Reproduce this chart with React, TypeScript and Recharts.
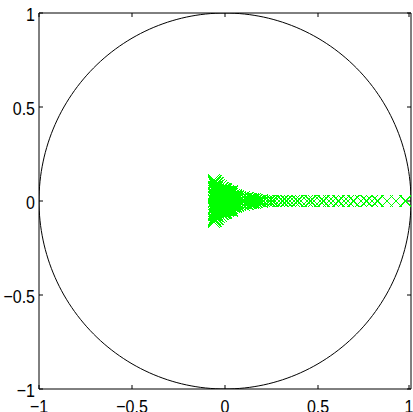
import { ScatterChart, Scatter, XAxis, YAxis } from "recharts";

const axisTicks = [-1, -0.5, 0, 0.5, 1];

// dense group of complex eigenvalues around the origin
const clusterRe = [
  -0.06, -0.06, -0.06, -0.06, -0.06, -0.06, -0.06,
  -0.055, -0.055, -0.055, -0.055, -0.055, -0.055,
  -0.05, -0.05, -0.05, -0.05,
  -0.045, -0.045, -0.045, -0.045,
  -0.04, -0.04, -0.04, -0.04,
  -0.035, -0.035, -0.035, -0.035,
  -0.03, -0.03,
  -0.025, -0.025, -0.025, -0.025,
  -0.02, -0.02, -0.015, -0.015, -0.01, -0.01, -0.005, -0.005,
  0, 0, 0.005, 0.005, 0.01, 0.01, 0.015, 0.015, 0.02, 0.02,
  0.025, 0.025, 0.03, 0.03, 0.035, 0.035, 0.04, 0.04, 0.045, 0.045,
  0.05, 0.05, 0.055, 0.055, 0.06, 0.06, 0.065, 0.065, 0.07, 0.07,
];
const clusterIm = [
  0.11, -0.11, 0.075, -0.075, 0.04, -0.04, 0,
  0.095, -0.095, 0.055, -0.055, 0.02, -0.02,
  0.085, -0.085, 0.03, -0.03,
  0.07, -0.07, 0.045, -0.045,
  0.08, -0.08, 0.01, -0.01,
  0.06, -0.06, 0.025, -0.025,
  0.07, -0.07,
  0.05, -0.05, 0.015, -0.015,
  0.065, -0.065, 0.035, -0.035, 0.055, -0.055, 0.02, -0.02,
  0.045, -0.045, 0.06, -0.06, 0.03, -0.03, 0.05, -0.05, 0.015, -0.015,
  0.04, -0.04, 0.05, -0.05, 0.025, -0.025, 0.04, -0.04, 0.01, -0.01,
  0.035, -0.035, 0.02, -0.02, 0.03, -0.03, 0.01, -0.01, 0.025, -0.025,
];

// more eigenvalues filling the core of the cluster
const innerRe = [
  -0.058, -0.058, -0.058, -0.058, -0.058, -0.058,
  -0.052, -0.052, -0.052, -0.052, -0.052, -0.052, -0.052, -0.052,
  -0.048, -0.048, -0.048, -0.048,
  -0.042, -0.042, -0.042, -0.042,
  -0.038, -0.038, -0.038, -0.038,
  -0.032, -0.032, -0.032, -0.032, -0.032, -0.032,
  -0.028, -0.028, -0.028, -0.028,
  -0.022, -0.022, -0.022, -0.022,
  -0.018, -0.018, -0.018, -0.018,
  -0.012, -0.012, -0.012, -0.012,
  -0.008, -0.008, -0.002, -0.002, -0.002, -0.002,
  0.002, 0.002, 0.008, 0.008, 0.008, 0.008, 0.012, 0.012,
  0.018, 0.018, 0.018, 0.018, 0.022, 0.022, 0.028, 0.028,
  0.032, 0.032, 0.038, 0.038, 0.042, 0.042, 0.048, 0.048,
];
const innerIm = [
  0.1, -0.1, 0.065, -0.065, 0.03, -0.03,
  0.105, -0.105, 0.075, -0.075, 0.045, -0.045, 0.01, -0.01,
  0.06, -0.06, 0.02, -0.02,
  0.095, -0.095, 0.035, -0.035,
  0.065, -0.065, 0.045, -0.045,
  0.085, -0.085, 0.05, -0.05, 0.015, -0.015,
  0.04, -0.04, 0.025, -0.025,
  0.08, -0.08, 0.03, -0.03,
  0.045, -0.045, 0.01, -0.01,
  0.07, -0.07, 0.025, -0.025,
  0.04, -0.04, 0.065, -0.065, 0.01, -0.01,
  0.035, -0.035, 0.05, -0.05, 0.015, -0.015, 0.04, -0.04,
  0.055, -0.055, 0.03, -0.03, 0.045, -0.045, 0.02, -0.02,
  0.035, -0.035, 0.05, -0.05, 0.02, -0.02, 0.03, -0.03,
];

// tail of eigenvalues along the positive real axis
const tailRe = [
  0.08, 0.08, 0.09, 0.09, 0.1, 0.1, 0.11, 0.11, 0.12, 0.12, 0.13, 0.13,
  0.14, 0.14, 0.15, 0.15, 0.16, 0.16, 0.17, 0.17, 0.18, 0.19, 0.2, 0.2,
  0.21, 0.225, 0.24, 0.255, 0.27, 0.29, 0.31, 0.33, 0.35, 0.37, 0.39,
  0.41, 0.44, 0.46, 0.48, 0.51, 0.53, 0.56, 0.58, 0.61, 0.64, 0.66,
  0.69, 0.73, 0.76, 0.79, 0.82, 0.87, 0.92, 0.97,
];
const tailIm = [
  0.02, -0.02, 0.015, -0.015, 0.02, -0.02, 0.01, -0.01, 0.015, -0.015, 0.01, -0.01,
  0.012, -0.012, 0.008, -0.008, 0.01, -0.01, 0.006, -0.006, 0, 0, 0.005, -0.005,
  0, 0, 0, 0, 0, 0, 0, 0, 0, 0, 0,
  0, 0, 0, 0, 0, 0, 0, 0, 0, 0, 0,
  0, 0, 0, 0, 0, 0, 0, 0,
];

const eigData = [
  ...clusterRe.map((re, i) => ({ x: re, y: clusterIm[i] })),
  ...innerRe.map((re, i) => ({ x: re, y: innerIm[i] })),
  ...tailRe.map((re, i) => ({ x: re, y: tailIm[i] })),
];

// unit circle outline
const circleData = Array.from({ length: 241 }, (_, i) => {
  const t = (i / 240) * 2 * Math.PI;
  return { x: Math.cos(t), y: Math.sin(t) };
});

const FONT = "Arial, 'Liberation Sans', Helvetica, sans-serif";
const TL = 4; // inward tick length
const fmt = (v: number) => String(v).replace("-", "\u2212");

// MATLAB-ish ticks: inward tick line + slightly tall label
function BottomTick({ x, y, payload }: any) {
  return (
    <g>
      <line x1={x} y1={y} x2={x} y2={y - TL} stroke="#000" />
      <text
        transform={`translate(${x},${y + 24}) scale(1,1.2)`}
        textAnchor="middle"
        fontSize={16}
        fontFamily={FONT}
        fill="#000"
      >
        {fmt(payload.value)}
      </text>
    </g>
  );
}

function LeftTick({ x, y, payload }: any) {
  return (
    <g>
      <line x1={x} y1={y} x2={x + TL} y2={y} stroke="#000" />
      <text
        transform={`translate(${x - 4},${y + 8}) scale(1,1.2)`}
        textAnchor="end"
        fontSize={16}
        fontFamily={FONT}
        fill="#000"
      >
        {fmt(payload.value)}
      </text>
    </g>
  );
}

function TopTick({ x, y }: any) {
  return <line x1={x} y1={y} x2={x} y2={y + TL} stroke="#000" />;
}

function RightTick({ x, y }: any) {
  return <line x1={x} y1={y} x2={x - TL} y2={y} stroke="#000" />;
}

function Cross(props: any) {
  const { cx, cy } = props;
  const r = 6;
  return (
    <path
      d={`M${cx - r},${cy - r}L${cx + r},${cy + r}M${cx - r},${cy + r}L${cx + r},${cy - r}`}
      stroke="#00ff00"
      strokeWidth={1}
      fill="none"
      shapeRendering="crispEdges"
    />
  );
}

export default function App() {
  return (
    <div style={{ position: "absolute", left: 0, top: 0, background: "#fff" }}>
      <ScatterChart width={413} height={412} margin={{ top: 12, right: 1, bottom: 0, left: 0 }}>
        <XAxis
          xAxisId="b"
          type="number"
          dataKey="x"
          domain={[-1, 1]}
          ticks={axisTicks}
          allowDataOverflow
          height={23}
          tickSize={0}
          tickMargin={0}
          tickLine={false}
          tick={BottomTick}
          stroke="#000"
        />
        <XAxis
          xAxisId="t"
          orientation="top"
          type="number"
          dataKey="x"
          domain={[-1, 1]}
          ticks={axisTicks}
          allowDataOverflow
          height={1}
          tickSize={0}
          tickMargin={0}
          tickLine={false}
          tick={TopTick}
          stroke="#000"
        />
        <YAxis
          yAxisId="l"
          type="number"
          dataKey="y"
          domain={[-1, 1]}
          ticks={axisTicks}
          allowDataOverflow
          width={39}
          tickSize={0}
          tickMargin={0}
          tickLine={false}
          tick={LeftTick}
          stroke="#000"
        />
        <YAxis
          yAxisId="r"
          orientation="right"
          type="number"
          dataKey="y"
          domain={[-1, 1]}
          ticks={axisTicks}
          allowDataOverflow
          width={1}
          tickSize={0}
          tickMargin={0}
          tickLine={false}
          tick={RightTick}
          stroke="#000"
        />
        <Scatter
          xAxisId="t"
          yAxisId="r"
          data={circleData}
          line={{ stroke: "#000", strokeWidth: 1 }}
          lineType="joint"
          shape={() => <g />}
          isAnimationActive={false}
        />
        <Scatter
          xAxisId="b"
          yAxisId="l"
          data={eigData}
          shape={Cross}
          isAnimationActive={false}
        />
      </ScatterChart>
    </div>
  );
}
